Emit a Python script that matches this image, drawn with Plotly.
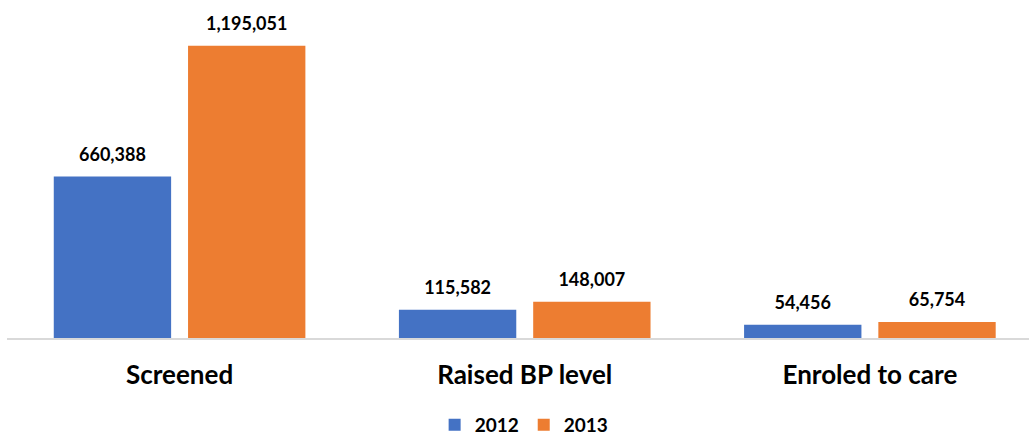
import plotly.graph_objects as go

# Hypertension cascade counts by year
categories = ["Screened", "Raised BP level", "Enroled to care"]
years = ["2012", "2013"]
values_2012 = [660388, 115582, 54456]
values_2013 = [1195051, 148007, 65754]

colors = {"2012": "#4472C4", "2013": "#ED7D31"}
font_family = "Lato, 'Open Sans', sans-serif"

fig = go.Figure()
for year, vals in zip(years, [values_2012, values_2013]):
    fig.add_trace(go.Bar(
        name=year,
        x=categories,
        y=vals,
        offsetgroup=year,
        marker=dict(color=colors[year], line=dict(width=0)),
        hoverinfo="skip",
    ))

# Value labels, grouped so they sit over their own bar
for year, vals in zip(years, [values_2012, values_2013]):
    fig.add_trace(go.Scatter(
        x=categories,
        y=vals,
        offsetgroup=year,
        mode="markers+text",
        marker=dict(size=16, color="rgba(0,0,0,0)"),
        text=[f"{v:,}" for v in vals],
        textposition="top center",
        textfont=dict(family=font_family, size=18, color="#000000", weight="bold"),
        cliponaxis=False,
        showlegend=False,
        hoverinfo="skip",
    ))

fig.update_layout(
    width=1029,
    height=435,
    margin=dict(l=7, r=0, t=0, b=97),
    paper_bgcolor="white",
    plot_bgcolor="white",
    barmode="group",
    scattermode="group",
    bargap=0.222,
    bargroupgap=0.126,
    font=dict(family=font_family, color="#000000"),
    showlegend=True,
    legend=dict(
        orientation="h",
        x=0.506, xanchor="center",
        y=0.023, yanchor="middle", yref="container",
        font=dict(family=font_family, size=19, color="#000000", weight="bold"),
        traceorder="normal",
    ),
    xaxis=dict(
        range=[-0.5, 2.461],
        showline=True,
        linecolor="#d9d9d9",
        linewidth=2,
        ticks="",
        ticklabelstandoff=13,
        tickfont=dict(family=font_family, size=26, color="#000000", weight="bold"),
        showgrid=False,
        zeroline=False,
    ),
    yaxis=dict(
        range=[0, 1381900],
        visible=False,
        showgrid=False,
        zeroline=False,
    ),
)

fig.write_html("out.html")
